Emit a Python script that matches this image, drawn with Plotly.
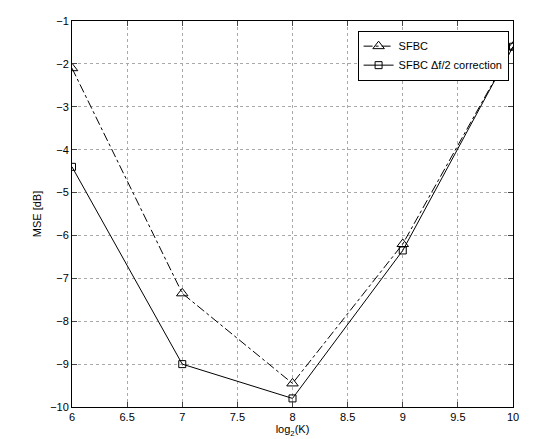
import plotly.graph_objects as go

k = [6, 7, 8, 9, 10]
sfbc = [-2.1, -7.35, -9.45, -6.2, -1.6]
sfbc_corr = [-4.4, -9.0, -9.8, -6.35, -1.6]

fig = go.Figure()
fig.add_trace(go.Scatter(x=k, y=sfbc, name="SFBC", mode="lines+markers",
                         line=dict(color="black", width=1, dash="dashdot"),
                         marker=dict(symbol="triangle-up-open", size=10, color="black")))
fig.add_trace(go.Scatter(x=k, y=sfbc_corr, name="SFBC \u0394f/2 correction", mode="lines+markers",
                         line=dict(color="black", width=1),
                         marker=dict(symbol="square-open", size=7, color="black")))

ax = dict(showline=True, linecolor="black", mirror="ticks", ticks="inside", ticklen=5,
          showgrid=True, gridcolor="#aaaaaa", griddash="dot", zeroline=False,
          tickfont=dict(size=11, color="black"), title_font=dict(size=11, color="black"))
fig.update_xaxes(ax, range=[6, 10], dtick=0.5, title_text="log<sub>2</sub>(K)", title_standoff=0)
fig.update_yaxes(ax, range=[-10, -1], dtick=1, title_text="MSE [dB]", title_standoff=6)
fig.update_layout(width=549, height=439, plot_bgcolor="white", paper_bgcolor="white",
                  font=dict(family="Liberation Sans, Arial", color="black"),
                  margin=dict(l=64, r=44, t=7, b=40),
                  legend=dict(x=0.99, y=0.975, xanchor="right", yanchor="top",
                              bordercolor="black", borderwidth=1, bgcolor="white",
                              font=dict(size=11)))
fig.write_html("out.html")
